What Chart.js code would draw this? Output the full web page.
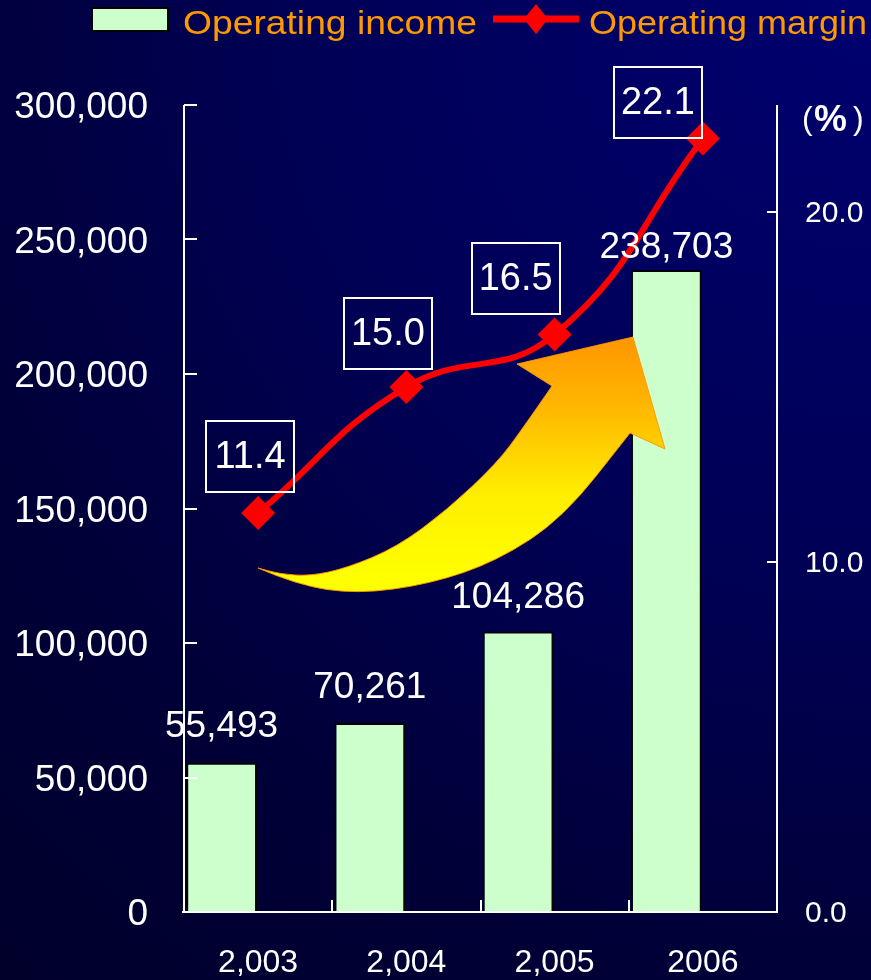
<!DOCTYPE html>
<html>
<head>
<meta charset="utf-8">
<script src="https://cdn.jsdelivr.net/npm/chart.js@4/dist/chart.umd.min.js"></script>
<style>
html,body{margin:0;padding:0;background:#000040;overflow:hidden;}
#wrap{width:871px;height:980px;position:relative;}
canvas{display:block;}
</style>
</head>
<body>
<div id="wrap"><canvas id="c" width="871" height="980"></canvas></div>
<script>
// ---- data ----
const years = ['2,003', '2,004', '2,005', '2006'];
const operatingIncome = [55493, 70261, 104286, 238703];
const operatingMargin = [11.4, 15.0, 16.5, 22.1];
const incomeTicks = [0, 50000, 100000, 150000, 200000, 250000, 300000];
const marginTicks = [0, 10, 20];
const seriesNames = ['Operating income', 'Operating margin'];
const marginUnit = '%';

const FONT = "'Liberation Sans', Arial, sans-serif";

// background
const bgPlugin = {
  id: 'bg',
  beforeDraw(chart) {
    const ctx = chart.ctx, w = chart.width, h = chart.height;
    const g = ctx.createRadialGradient(w, 0, 0, w, 0, 1320);
    g.addColorStop(0, '#000070');
    g.addColorStop(0.45, '#000054');
    g.addColorStop(0.72, '#000039');
    g.addColorStop(1, '#00002a');
    ctx.save();
    ctx.fillStyle = g;
    ctx.fillRect(0, 0, w, h);
    ctx.restore();
  }
};

// axis lines and inward tick marks
const axesPlugin = {
  id: 'axesLines',
  afterDatasetsDraw(chart) {
    const ctx = chart.ctx, a = chart.chartArea;
    const x = chart.scales.x, y = chart.scales.y, y2 = chart.scales.y2;
    ctx.save();
    ctx.strokeStyle = '#ffffff';
    ctx.lineWidth = 2;
    ctx.beginPath();
    // left axis
    ctx.moveTo(a.left, a.top); ctx.lineTo(a.left, a.bottom);
    incomeTicks.forEach(v => { const p = Math.round(y.getPixelForValue(v)); ctx.moveTo(a.left, p); ctx.lineTo(a.left + 13, p); });
    // right axis
    ctx.moveTo(a.right, a.top); ctx.lineTo(a.right, a.bottom);
    marginTicks.forEach(v => { const p = Math.round(y2.getPixelForValue(v)); ctx.moveTo(a.right, p); ctx.lineTo(a.right - 10, p); });
    // bottom axis
    ctx.moveTo(a.left - 2, a.bottom); ctx.lineTo(a.right + 1, a.bottom);
    for (let i = 1; i < years.length; i++) {
      const p = Math.round((x.getPixelForTick(i - 1) + x.getPixelForTick(i)) / 2);
      ctx.moveTo(p, a.bottom); ctx.lineTo(p, a.bottom - 12);
    }
    ctx.stroke();
    // (%) unit label
    ctx.fillStyle = '#ffffff';
    ctx.textBaseline = 'middle';
    ctx.textAlign = 'left';
    ctx.font = '32px ' + FONT;
    ctx.fillText('(', a.right + 25, 120);
    ctx.fillText(')', a.right + 76, 120);
    ctx.font = 'bold 37px ' + FONT;
    ctx.fillText(marginUnit, a.right + 37, 121);
    ctx.restore();
  }
};

// decorative curved arrow, drawn above the bars but beneath the line
function smoothPath(ctx, pts, start) {
  if (start) ctx.moveTo(pts[0][0], pts[0][1]); else ctx.lineTo(pts[0][0], pts[0][1]);
  for (let i = 1; i < pts.length - 1; i++) {
    const mx = (pts[i][0] + pts[i + 1][0]) / 2, my = (pts[i][1] + pts[i + 1][1]) / 2;
    ctx.quadraticCurveTo(pts[i][0], pts[i][1], mx, my);
  }
  const l = pts[pts.length - 1];
  ctx.lineTo(l[0], l[1]);
}
const arrowPlugin = {
  id: 'arrow',
  afterDatasetDraw(chart, args) {
    if (args.index !== 0) return;
    const ctx = chart.ctx;
    ctx.save();
    const g = ctx.createLinearGradient(0, 575, 0, 345);
    g.addColorStop(0, '#ffff00');
    g.addColorStop(0.35, '#ffee00');
    g.addColorStop(0.7, '#ffbb00');
    g.addColorStop(1, '#ff9900');
    ctx.fillStyle = g;
    ctx.strokeStyle = 'rgba(255,150,0,0.9)';
    ctx.lineWidth = 1;
    ctx.beginPath();
    const lower = [[258, 568], [297, 585], [357, 594], [430, 584], [497, 561], [563, 518], [630, 433]];
    smoothPath(ctx, lower, true);
    ctx.lineTo(665, 449);
    ctx.lineTo(633, 337);
    ctx.lineTo(517, 364);
    ctx.lineTo(552, 386);
    const upper = [[552, 386], [523, 428], [497, 463], [447, 510], [397, 547], [347, 568], [310, 576], [280, 574], [258, 568]];
    smoothPath(ctx, upper, false);
    ctx.closePath();
    ctx.fill();
    ctx.stroke();
    ctx.restore();
  }
};

// value labels
const labelsPlugin = {
  id: 'valueLabels',
  afterDatasetsDraw(chart, args, opts) {
    const ctx = chart.ctx;
    ctx.save();
    ctx.fillStyle = '#ffffff';
    ctx.textAlign = 'center';
    ctx.textBaseline = 'middle';
    // bar labels
    ctx.font = '37px ' + FONT;
    const barMeta = chart.getDatasetMeta(0);
    barMeta.data.forEach((bar, i) => {
      ctx.fillText(operatingIncome[i].toLocaleString('en-US'), bar.x, bar.y - opts.barGap[i]);
    });
    // boxed margin labels
    const lineMeta = chart.getDatasetMeta(2);
    ctx.strokeStyle = '#ffffff';
    ctx.lineWidth = 2;
    lineMeta.data.forEach((pt, i) => {
      const cx = pt.x + opts.boxShift[i][0], cy = pt.y + opts.boxShift[i][1];
      const bw = 88, bh = 71;
      ctx.strokeRect(Math.round(cx - bw / 2), Math.round(cy - bh / 2), bw, bh);
      ctx.font = '38px ' + FONT;
      ctx.fillText(operatingMargin[i].toFixed(1), cx, cy + 1);
    });
    ctx.restore();
  }
};

// legend
const legendPlugin = {
  id: 'customLegend',
  afterDraw(chart) {
    const ctx = chart.ctx;
    ctx.save();
    ctx.fillStyle = '#CCFFCC';
    ctx.fillRect(92, 8, 76, 23);
    ctx.strokeStyle = '#000000';
    ctx.lineWidth = 2;
    ctx.strokeRect(92, 8, 76, 23);
    ctx.font = '34px ' + FONT;
    ctx.fillStyle = '#FF9900';
    ctx.textBaseline = 'alphabetic';
    ctx.textAlign = 'left';
    const drawStretched = (txt, x, w) => {
      const m = ctx.measureText(txt).width;
      ctx.save();
      ctx.translate(x, 34);
      ctx.scale(w / m, 1);
      ctx.fillText(txt, 0, 0);
      ctx.restore();
    };
    drawStretched(seriesNames[0], 183, 294);
    // line + diamond symbol
    ctx.strokeStyle = '#FF0000';
    ctx.lineWidth = 7;
    ctx.beginPath();
    ctx.moveTo(493, 19); ctx.lineTo(579, 19);
    ctx.stroke();
    ctx.fillStyle = '#FF0000';
    ctx.beginPath();
    ctx.moveTo(536, 4); ctx.lineTo(548, 19); ctx.lineTo(536, 34); ctx.lineTo(524, 19);
    ctx.closePath();
    ctx.fill();
    ctx.fillStyle = '#FF9900';
    drawStretched(seriesNames[1], 589, 278);
    ctx.restore();
  }
};

new Chart(document.getElementById('c'), {
  data: {
    labels: years,
    datasets: [
      {
        type: 'bar',
        label: seriesNames[0],
        data: operatingIncome,
        backgroundColor: '#CCFFCC',
        borderColor: '#000000',
        borderWidth: 2,
        yAxisID: 'y',
        categoryPercentage: 0.985,
        barPercentage: 0.97,
        order: 2
      },
      {
        type: 'bar',
        label: 'spacer',
        data: years.map(() => null),
        backgroundColor: 'rgba(0,0,0,0)',
        yAxisID: 'y',
        categoryPercentage: 0.985,
        barPercentage: 0.97,
        order: 3
      },
      {
        type: 'line',
        label: seriesNames[1],
        data: operatingMargin,
        yAxisID: 'y2',
        borderColor: '#FF0000',
        backgroundColor: '#FF0000',
        borderWidth: 6,
        tension: 0.45,
        pointStyle: 'rectRot',
        pointRadius: 17,
        pointHoverRadius: 17,
        pointBorderWidth: 0,
        pointBackgroundColor: '#FF0000',
        clip: false,
        order: 1
      }
    ]
  },
  options: {
    responsive: false,
    animation: false,
    devicePixelRatio: 1,
    layout: { padding: { top: 105, left: 0, right: 0, bottom: 0 } },
    plugins: {
      legend: { display: false },
      tooltip: { enabled: false },
      valueLabels: {
        barGap: [36, 35, 34, 22],
        boxShift: [[-8, -57], [-18.5, -53.5], [-39, -56], [-45, -36.5]]
      }
    },
    scales: {
      x: {
        type: 'category',
        offset: true,
        grid: { display: false },
        border: { display: false },
        ticks: { color: '#ffffff', font: { size: 32, family: FONT }, padding: 24, maxRotation: 0 },
        afterFit(s) { s.height = 68; }
      },
      y: {
        position: 'left',
        min: 0, max: 300000,
        grid: { display: false },
        border: { display: false },
        afterBuildTicks(s) { s.ticks = incomeTicks.map(v => ({ value: v })); },
        ticks: {
          color: '#ffffff', font: { size: 37, family: FONT }, padding: 28, labelOffset: 3,
          callback: v => Number(v).toLocaleString('en-US')
        },
        afterFit(s) { s.width = 184; }
      },
      y2: {
        position: 'right',
        min: 0, max: 23.06,
        grid: { display: false },
        border: { display: false },
        afterBuildTicks(s) { s.ticks = marginTicks.map(v => ({ value: v })); },
        ticks: {
          color: '#ffffff', font: { size: 30, family: FONT }, padding: 20, labelOffset: 2,
          callback: v => Number(v).toFixed(1)
        },
        afterFit(s) { s.width = 94; }
      }
    }
  },
  plugins: [bgPlugin, arrowPlugin, axesPlugin, labelsPlugin, legendPlugin]
});
</script>
</body>
</html>
